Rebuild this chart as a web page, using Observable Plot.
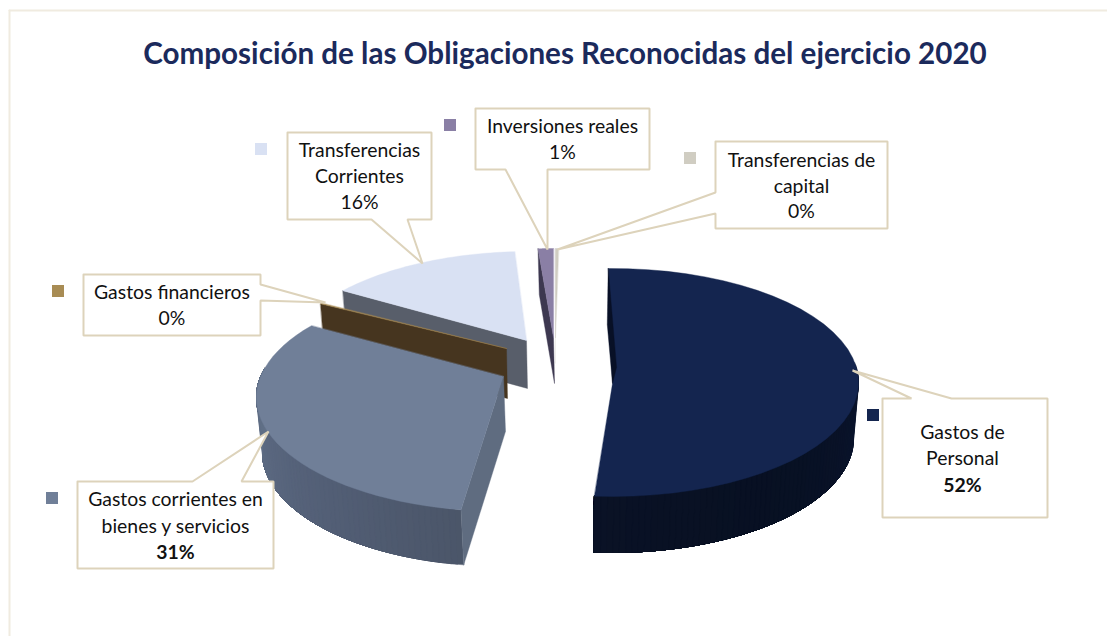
<!DOCTYPE html>
<html><head><meta charset="utf-8">
<style>html,body{margin:0;padding:0;background:#fff}svg{display:block}</style>
<script src="https://cdn.jsdelivr.net/npm/d3@7"></script>
<script src="https://cdn.jsdelivr.net/npm/@observablehq/plot@0.6"></script>
</head><body><div id="chart"></div>
<script>
const titleText = "Composición de las Obligaciones Reconocidas del ejercicio 2020";
const categories = ["Gastos de Personal","Gastos corrientes en bienes y servicios","Gastos financieros","Transferencias Corrientes","Inversiones reales","Transferencias de capital"];
const shares = [51.6, 30.9, 0.4, 15.9, 1.0, 0.2];
const shareLabels = ["52%","31%","0%","16%","1%","0%"];
const labelLines = [["Gastos de","Personal"],["Gastos corrientes en","bienes y servicios"],["Gastos financieros"],["Transferencias","Corrientes"],["Inversiones reales"],["Transferencias de","capital"]];

const topColors  = ["#14254f","#707f98","#a88c54","#d9e1f3","#8a7fa5","#d0cdc2"];
const edgeColors = ["#081026","#5f6c80","#46351f","#585e6a","#3d3850","#e9e7e1"];
const wallColors = [["#0a1226","#070f20","#0b1631"],["#4b5669","#55617a","#63738a"],null,null,null,null];
const legendColors = ["#14254f","#707f98","#a88c54","#d9e1f3","#8a7fa5","#d0cdc2"];

// Layout of each exploded slice: where the wedge's point sits, the centre of its rim ellipse,
// the rim angle it starts from, how far the 3-D view stretches its sweep, and its thickness.
const sliceLayout = [
  {apex:[612,383], c:[612,382], start:-1,   stretch:0.997, h:56, dx:-1, wallFrom:80,  notch:[616,367]},
  {apex:[503,376], c:[502,397], start:189.7,stretch:1.073, h:55, dx:2,  wallFrom:189.7, wallTo:285},
  {apex:[506,348], c:[506,378], start:310.9,stretch:0.3,   h:50, dx:1},
  {apex:[526,340], c:[528,365], start:311,  stretch:0.80,  h:48, dx:1},
  {apex:[553,337], c:[553,362], start:-3.6, stretch:1,     h:46, dx:1},
  {apex:[555,337], c:[555,362], start:0,    stretch:1,     h:26, dx:0}
];
const RX = 246, RY = 114;

const calloutLayout = [
  {box:[882,398,1047,517], side:"top",    base:[911,951], tip:[852,370], textX:962, lineY:[432,458,485], marker:[867,409]},
  {box:[77,481,273,568],   side:"top",    base:[192,241], tip:[268,431], textX:175, lineY:[499,526,552], marker:[46,492]},
  {box:[83,274,260,335],   side:"right",  base:[284,300], tip:[325,302], textX:171.5, lineY:[292,318],   marker:[52,285]},
  {box:[287,132,431,219],  side:"bottom", base:[407,371], tip:[422,263], textX:359, lineY:[150,176,202], marker:[255,143]},
  {box:[475,108,649,169],  side:"bottom", base:[547,505], tip:[547,249], textX:562, lineY:[126,152],     marker:[444,119]},
  {box:[715,141,887,228],  side:"left",   base:[213,192], tip:[557,249], textX:801, lineY:[160,186,211], marker:[684,152]}
];
const boldShare = [true,true,false,false,false,false];
const MARKER = 12;

const rad = d => d * Math.PI / 180;
const rimPt = (s,t) => [s.c[0] + RX*Math.sin(rad(t)), s.c[1] - RY*Math.cos(rad(t))];
const basePt = (s,t) => [s.c[0] + s.dx + (RX-4)*Math.sin(rad(t)), s.c[1] + s.h - RY*Math.cos(rad(t))];

const polys = [];
const addPoly = (id, pts, color) => pts.forEach(p => polys.push({id, x:p[0], y:p[1], color}));

// paint from back to front
[5,4,3,2,1,0].forEach(i => {
  const s = sliceLayout[i], t0 = s.start, t1 = t0 + shares[i]*3.6*s.stretch;
  const apexLow = [s.apex[0]+s.dx, s.apex[1]+s.h];
  if (wallColors[i]) {
    const from = s.wallFrom, to = s.wallTo ?? t1;
    const ramp = d3.interpolateRgbBasis(wallColors[i]);
    const lo = Math.min(from,to), hi = Math.max(from,to), n = Math.ceil((hi-lo)/1.5);
    // each strip runs from its own start to the far end of the wall, so later strips paint over it and no seams show
    for (let k=0;k<n;k++){
      const a = lo+(hi-lo)*k/n, b = lo+(hi-lo)*(k+1)/n;
      const q = i===0 ? 1-(a-lo)/(hi-lo) : (a-lo)/(hi-lo);
      const arcTop = d3.range(a, hi, 1.5).concat(hi).map(t => rimPt(s,t));
      const arcLow = d3.range(a, hi, 1.5).concat(hi).map(t => basePt(s,t)).reverse();
      addPoly(`w${i}-${k}`, [...arcTop, ...arcLow], ramp(q));
    }
  }
  if (!s.notch) addPoly(`e${i}`, [rimPt(s,t0), s.apex, apexLow, basePt(s,t0)], edgeColors[i]);
  const arc = d3.range(0,41).map(k => rimPt(s, t0+(t1-t0)*k/40));
  addPoly(`t${i}`, [s.apex, ...arc], topColors[i]);
  if (s.notch) addPoly(`e${i}`, [rimPt(s,t0), basePt(s,t0), s.apex, s.notch], edgeColors[i]);
});

const calloutPts = c => {
  const [x0,y0,x1,y1] = c.box, b = c.base, t = c.tip;
  const pts = [[x0,y0]];
  if (c.side==="top") pts.push([b[0],y0],t,[b[1],y0]);
  pts.push([x1,y0]);
  if (c.side==="right") pts.push([x1,b[0]],t,[x1,b[1]]);
  pts.push([x1,y1]);
  if (c.side==="bottom") pts.push([b[0],y1],t,[b[1],y1]);
  pts.push([x0,y1]);
  if (c.side==="left") pts.push([x0,b[0]],t,[x0,b[1]]);
  pts.push([x0,y0]);
  return pts;
};
const calloutData = calloutLayout.flatMap((c,i) => calloutPts(c).map(p => ({id:i,x:p[0],y:p[1]})));

const textRows = calloutLayout.flatMap((c,i) => {
  const lines = [...labelLines[i], shareLabels[i]];
  return lines.map((t,j) => ({text:t, x:c.textX, y:c.lineY[j], bold: j===lines.length-1 && boldShare[i]}));
});
const markerRows = calloutLayout.map((c,i) => ({x1:c.marker[0], x2:c.marker[0]+MARKER, y1:c.marker[1], y2:c.marker[1]+MARKER, color:legendColors[i], name:categories[i]}));
const frameLines = [{id:"top",x:9,y:10},{id:"top",x:1107,y:10},{id:"left",x:9,y:10},{id:"left",x:9,y:636}];

const FONT = "Lato, Carlito, 'Open Sans', sans-serif";
const chart = Plot.plot({
  width:1107, height:636, margin:0,
  x:{domain:[0,1107], range:[0,1107], axis:null},
  y:{domain:[0,636], range:[0,636], axis:null},
  style:{background:"#fff", fontFamily:FONT},
  marks:[
    Plot.line(frameLines,{x:"x",y:"y",z:"id",stroke:"#f0ebe0",strokeWidth:2}),
    Plot.text([titleText],{x:()=>564.5,y:()=>54,text:d=>d,fontSize:29.6,fontWeight:700,fill:"#1b2a5c",textAnchor:"middle",lineAnchor:"middle",fontFamily:FONT}),
    Plot.line(polys,{x:"x",y:"y",z:"id",fill:"color",stroke:"color",strokeWidth:0.4,curve:"linear-closed"}),
    Plot.line(calloutData,{x:"x",y:"y",z:"id",fill:"#fff",stroke:"#ddd3bb",strokeWidth:2,strokeLinejoin:"miter"}),
    Plot.rect(markerRows,{x1:"x1",x2:"x2",y1:"y1",y2:"y2",fill:"color",inset:0}),
    Plot.text(textRows.filter(d=>!d.bold),{x:"x",y:"y",text:"text",fontSize:19.4,fill:"#111",textAnchor:"middle",lineAnchor:"middle",fontFamily:FONT}),
    Plot.text(textRows.filter(d=>d.bold),{x:"x",y:"y",text:"text",fontSize:19.4,fontWeight:700,fill:"#111",textAnchor:"middle",lineAnchor:"middle",fontFamily:FONT})
  ]
});
document.getElementById("chart").append(chart);
</script></body></html>
